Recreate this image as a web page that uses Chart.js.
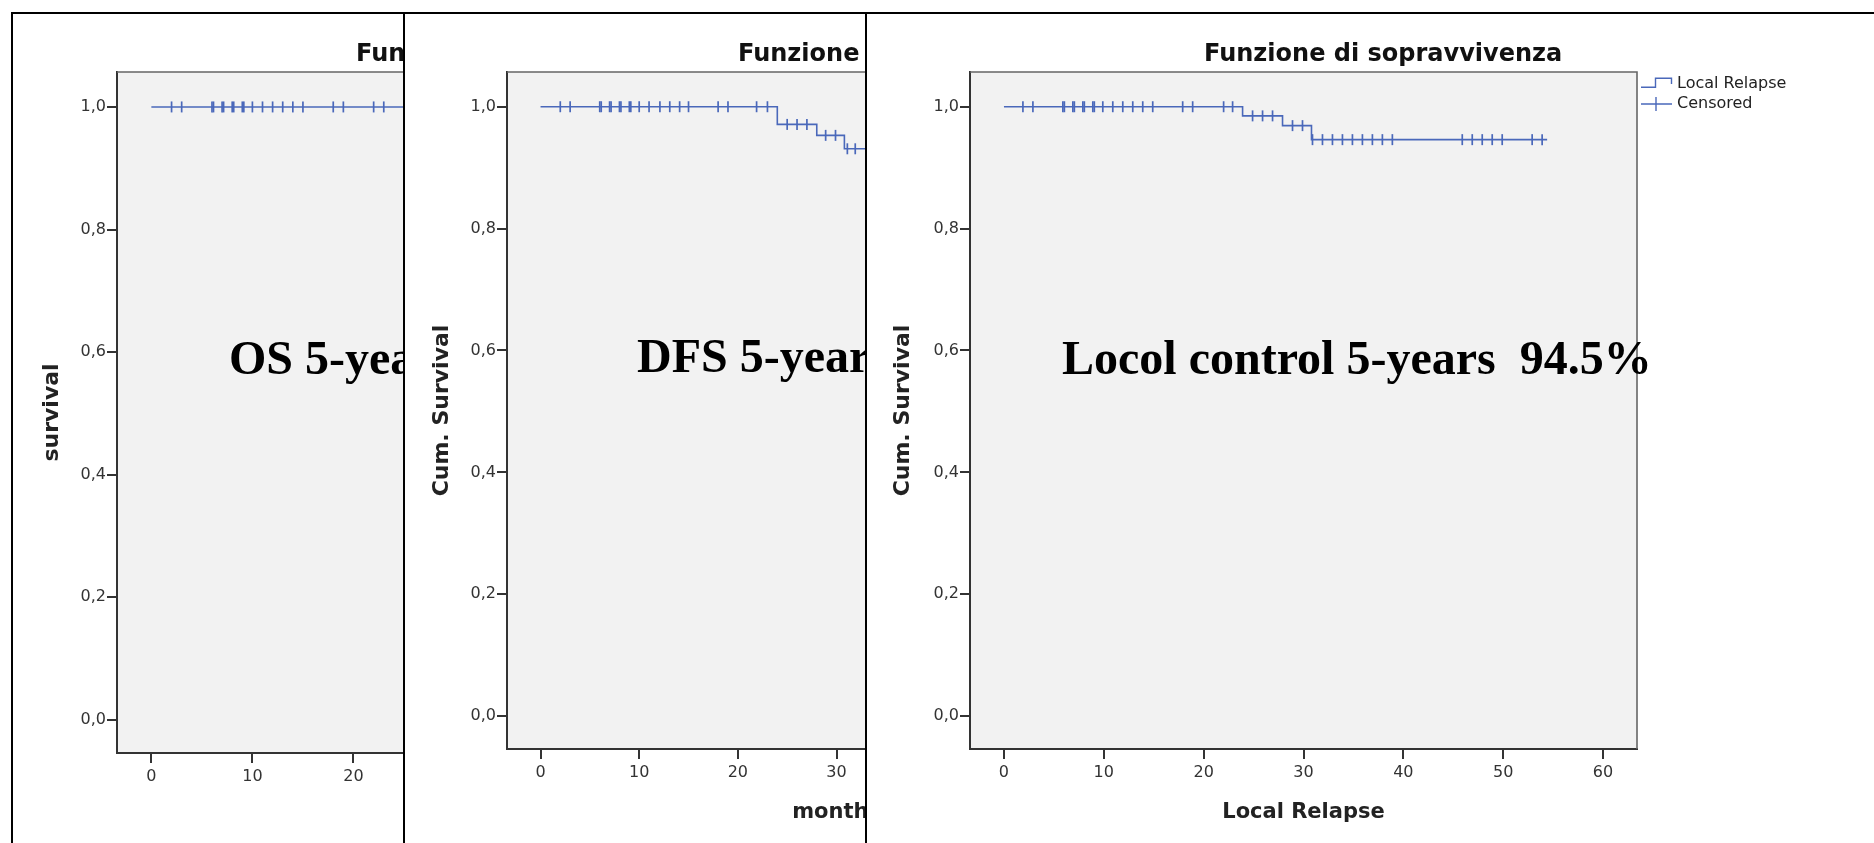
<!DOCTYPE html>
<html>
<head>
<meta charset="utf-8">
<script src="https://cdn.jsdelivr.net/npm/chart.js@4.4.1/dist/chart.umd.min.js"></script>
<style>
  html, body { margin: 0; padding: 0; background: #fff; }
  body { width: 1874px; height: 843px; position: relative; overflow: hidden; }
  .panel {
    position: absolute; top: 12px; width: 1009px; height: 831px;
    background: #fff; border-left: 2px solid #000; border-top: 2px solid #000;
    box-sizing: border-box; overflow: hidden;
  }
  .panel canvas { position: absolute; left: -2px; top: -2px; }
</style>
</head>
<body>
<div class="panel" style="left:11px"><canvas id="osChart" width="1009" height="831"></canvas></div>
<div class="panel" style="left:403px"><canvas id="dfsChart" width="1009" height="831"></canvas></div>
<div class="panel" style="left:865px"><canvas id="lcChart" width="1009" height="831"></canvas></div>
<script>
'use strict';

// ── Axis ticks ──────────────────────────────────────────────────
const X_TICKS = [0, 10, 20, 30, 40, 50, 60];
const Y_TICKS = [0, 0.2, 0.4, 0.6, 0.8, 1.0];

// ── Overall survival ────────────────────────────────────────────
const osStepTimes = [0, 54.4];
const osStepSurv  = [1.0, 1.0];
const osCensored  = [2, 3, 6, 6.15, 7, 7.15, 8, 8.15, 9, 9.15, 10, 11, 12, 13, 14, 15, 18, 19, 22, 23];

// ── Disease free survival ───────────────────────────────────────
const dfsStepTimes = [0, 24, 28, 30.8, 54.4];
const dfsStepSurv  = [1.0, 0.971, 0.953, 0.931, 0.931];
const dfsCensored  = [2, 3, 6, 6.15, 7, 7.15, 8, 8.15, 9, 9.15, 10, 11, 12.1, 13.1, 14.1, 15,
                      18, 19, 21.9, 23, 25, 26, 27, 28.9, 29.9, 31.1, 31.9];

// ── Local control ───────────────────────────────────────────────
const lcStepTimes = [0, 23.9, 27.9, 30.8, 54.4];
const lcStepSurv  = [1.0, 0.985, 0.969, 0.946, 0.946];
const lcCensored  = [1.9, 2.9, 5.9, 6.05, 6.9, 7.05, 7.9, 8.05, 8.9, 9.05, 9.9, 10.9, 11.9, 12.9, 13.9, 14.9,
                     17.9, 18.9, 22, 22.9, 24.9, 25.9, 26.9, 28.9, 29.9, 30.9, 31.9, 32.9, 33.9, 34.9,
                     35.9, 36.9, 37.9, 38.9, 45.9, 46.9, 47.9, 48.9, 49.9, 52.9, 53.9];

// ── Theme ───────────────────────────────────────────────────────
const BLUE = '#4a68ba';
const AXIS = '#333333';
const X_MIN = -3.4, X_MAX = 63.4;
const Y_MIN = -0.054, Y_MAX = 1.057;
const Y_AXIS_W = 60, X_AXIS_H = 40;

// ── Helpers ─────────────────────────────────────────────────────
function survivalAt(times, surv, t) {
  let s = surv[0];
  for (let i = 0; i < times.length; i++) {
    if (times[i] <= t) s = surv[i];
  }
  return s;
}

function commaLabel(v) {
  return v.toFixed(1).replace('.', ',');
}

function decorPlugin(cfg) {
  return {
    id: 'decor',
    beforeDraw(chart) {
      const { ctx, chartArea: a } = chart;
      ctx.save();
      ctx.fillStyle = '#f2f2f2';
      ctx.fillRect(a.left, a.top, a.right - a.left, a.bottom - a.top);
      ctx.restore();
    },
    afterDraw(chart) {
      const { ctx, chartArea: a } = chart;
      ctx.save();
      // top / right frame of the plot
      ctx.strokeStyle = '#666';
      ctx.lineWidth = 1.6;
      ctx.beginPath();
      ctx.moveTo(a.left, a.top);
      ctx.lineTo(a.right, a.top);
      ctx.lineTo(a.right, a.bottom);
      ctx.stroke();

      // title
      ctx.fillStyle = '#111';
      ctx.font = 'bold 24px "DejaVu Sans"';
      ctx.textAlign = 'left';
      ctx.textBaseline = 'alphabetic';
      ctx.fillText('Funzione di sopravvivenza', cfg.titleX, 49);

      // y title
      ctx.save();
      ctx.translate(cfg.yTitleX, (a.top + a.bottom) / 2);
      ctx.rotate(-Math.PI / 2);
      ctx.font = 'bold 22px "DejaVu Sans"';
      ctx.fillStyle = '#222';
      ctx.textAlign = 'center';
      ctx.textBaseline = 'middle';
      ctx.fillText(cfg.yTitle, 0, 0);
      ctx.restore();

      // x title
      ctx.font = 'bold 21px "DejaVu Sans"';
      ctx.fillStyle = '#222';
      ctx.textAlign = 'center';
      ctx.fillText(cfg.xTitle, (a.left + a.right) / 2, 806);

      // overlay statement
      ctx.font = 'bold 48px "Liberation Serif"';
      ctx.fillStyle = '#000';
      ctx.textAlign = 'left';
      ctx.fillText(cfg.note, cfg.noteX, cfg.noteY);

      // legend
      const lx = a.right + 4;
      ctx.strokeStyle = BLUE;
      ctx.lineWidth = 1.4;
      ctx.beginPath();
      ctx.moveTo(lx, 75.3);
      ctx.lineTo(lx + 14.5, 75.3);
      ctx.lineTo(lx + 14.5, 66.3);
      ctx.lineTo(lx + 30.5, 66.3);
      ctx.lineTo(lx + 30.5, 72);
      ctx.moveTo(lx, 92);
      ctx.lineTo(lx + 31, 92);
      ctx.moveTo(lx + 15, 85);
      ctx.lineTo(lx + 15, 99);
      ctx.stroke();
      ctx.font = '16px "DejaVu Sans"';
      ctx.fillStyle = '#222';
      ctx.textBaseline = 'middle';
      ctx.fillText(cfg.curveLabel, lx + 36, 72);
      ctx.fillText('Censored', lx + 36, 92);
      ctx.restore();
    }
  };
}

function axisOptions(min, max, tickValues, isX) {
  return {
    type: 'linear',
    min: min,
    max: max,
    afterFit(axis) {
      if (isX) axis.height = X_AXIS_H;
      else axis.width = Y_AXIS_W;
    },
    afterBuildTicks(axis) {
      axis.ticks = tickValues.map(v => ({ value: v }));
    },
    grid: {
      drawOnChartArea: false,
      drawTicks: true,
      tickLength: 10,
      color: AXIS,
      lineWidth: 2
    },
    border: { display: true, color: AXIS, width: 2 },
    ticks: {
      color: AXIS,
      padding: isX ? 4 : 1,
      font: { family: 'DejaVu Sans', size: 16 },
      callback: v => isX ? String(v) : commaLabel(v),
      maxRotation: 0,
      autoSkip: false
    }
  };
}

function makePanel(cfg) {
  const canvas = document.getElementById(cfg.canvasId);
  const W = canvas.width, H = canvas.height;
  const curve = cfg.times.map((t, i) => ({ x: t, y: cfg.surv[i] }));
  const marks = cfg.censored.map(t => ({ x: t, y: survivalAt(cfg.times, cfg.surv, t) }));

  new Chart(canvas, {
    type: 'line',
    data: {
      datasets: [
        {
          label: cfg.curveLabel,
          data: curve,
          stepped: 'before',
          borderColor: BLUE,
          borderWidth: 1.6,
          pointRadius: 0,
          fill: false
        },
        {
          label: 'Censored',
          data: marks,
          showLine: false,
          pointStyle: 'line',
          pointRotation: 90,
          pointRadius: 5.5,
          pointBorderWidth: 1.7,
          pointBorderColor: BLUE,
          borderColor: BLUE
        }
      ]
    },
    options: {
      responsive: false,
      animation: false,
      devicePixelRatio: 1,
      layout: {
        padding: {
          left: cfg.plot.l - Y_AXIS_W,
          right: W - cfg.plot.r,
          top: cfg.plot.t,
          bottom: H - cfg.plot.b - X_AXIS_H
        }
      },
      scales: {
        x: axisOptions(X_MIN, X_MAX, X_TICKS, true),
        y: axisOptions(Y_MIN, Y_MAX, Y_TICKS, false)
      },
      plugins: {
        legend: { display: false },
        tooltip: { enabled: false }
      }
    },
    plugins: [decorPlugin(cfg)]
  });
}

// ── Panels ──────────────────────────────────────────────────────
makePanel({
  canvasId: 'osChart',
  times: osStepTimes, surv: osStepSurv, censored: osCensored,
  plot: { l: 106, r: 781, t: 60, b: 741 },
  titleX: 345, yTitleX: 41, yTitle: 'survival', xTitle: 'months',
  curveLabel: 'Survival',
  note: 'OS 5-years', noteX: 218, noteY: 362
});

makePanel({
  canvasId: 'dfsChart',
  times: dfsStepTimes, surv: dfsStepSurv, censored: dfsCensored,
  plot: { l: 104, r: 763, t: 60, b: 737 },
  titleX: 335, yTitleX: 39.5, yTitle: 'Cum. Survival', xTitle: 'months',
  curveLabel: 'Survival',
  note: 'DFS 5-years', noteX: 234, noteY: 360
});

makePanel({
  canvasId: 'lcChart',
  times: lcStepTimes, surv: lcStepSurv, censored: lcCensored,
  plot: { l: 105, r: 772, t: 60, b: 737 },
  titleX: 339, yTitleX: 38.5, yTitle: 'Cum. Survival', xTitle: 'Local Relapse',
  curveLabel: 'Local Relapse',
  note: 'Locol control 5-years  94.5%', noteX: 197, noteY: 362
});
</script>
</body>
</html>
